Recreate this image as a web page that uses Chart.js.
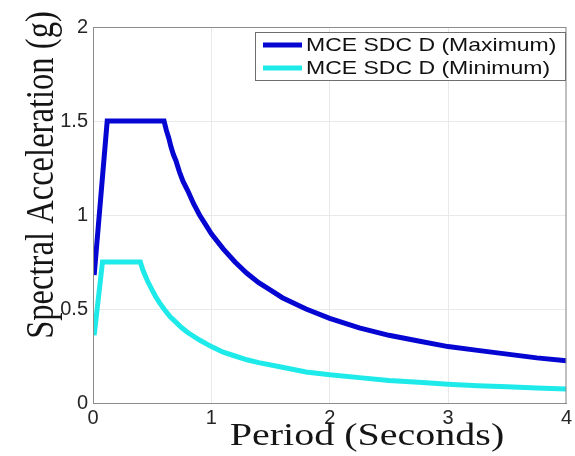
<!DOCTYPE html>
<html>
<head>
<meta charset="utf-8">
<script src="https://cdn.jsdelivr.net/npm/chart.js@4"></script>
<style>
  html, body { margin: 0; padding: 0; background: #fff; }
  #wrap { width: 575px; height: 456px; }
</style>
</head>
<body>
<div id="wrap"><canvas id="chart" width="575" height="456"></canvas></div>
<script>
// values
const periodMax = [0.01, 0.12, 0.6, 0.62, 0.64, 0.66, 0.68, 0.7, 0.73, 0.76, 0.8, 0.85, 0.9, 0.95, 1.0, 1.1, 1.2, 1.3, 1.4, 1.5, 1.6, 1.8, 2.0, 2.25, 2.5, 2.75, 3.0, 3.25, 3.5, 3.75, 4.0];
const saMax = [0.68, 1.5, 1.5, 1.45, 1.41, 1.36, 1.32, 1.29, 1.23, 1.18, 1.13, 1.06, 1.0, 0.95, 0.9, 0.82, 0.75, 0.69, 0.64, 0.6, 0.56, 0.5, 0.45, 0.4, 0.36, 0.33, 0.3, 0.28, 0.26, 0.24, 0.225];

const periodMin = [0.01, 0.08, 0.4, 0.42, 0.44, 0.46, 0.48, 0.5, 0.53, 0.56, 0.6, 0.65, 0.7, 0.75, 0.8, 0.9, 1.0, 1.1, 1.2, 1.3, 1.4, 1.6, 1.8, 2.0, 2.25, 2.5, 2.75, 3.0, 3.25, 3.5, 3.75, 4.0];
const saMin = [0.36, 0.75, 0.75, 0.71, 0.68, 0.65, 0.625, 0.6, 0.565, 0.535, 0.5, 0.46, 0.43, 0.4, 0.375, 0.335, 0.3, 0.27, 0.25, 0.23, 0.215, 0.19, 0.165, 0.15, 0.135, 0.12, 0.11, 0.1, 0.092, 0.086, 0.08, 0.075];

const seriesLabels = ["MCE SDC D (Maximum)", "MCE SDC D (Minimum)"];
const seriesColors = ["#0606d2", "#1eeaea"];
const xTitle = "Period (Seconds)";
const yTitle = "Spectral Acceleration (g)";

function toPoints(xs, ys) {
    return xs.map((x, i) => ({ x: x, y: ys[i] }));
}

// the source figure is a bit squashed vertically, text too
const squash = 0.77;

// box, axis titles and legend drawn like the matlab figure
const figureDecor = {
    id: "figureDecor",
    afterDraw(chart) {
        const ctx = chart.ctx;
        const a = chart.chartArea;
        ctx.save();

        // axes box
        ctx.strokeStyle = "#8c8c8c";
        ctx.lineWidth = 1;
        ctx.strokeRect(a.left + 0.5, a.top + 0.5, a.right - a.left - 1, a.bottom - a.top);

        // axis titles
        ctx.fillStyle = "#151515";
        ctx.font = "40px 'Liberation Serif', serif";
        ctx.textAlign = "center";
        ctx.textBaseline = "alphabetic";

        ctx.save();
        ctx.translate(367, 445);
        ctx.scale(1, squash);
        ctx.fillText(xTitle, 0, 0);
        ctx.restore();

        ctx.save();
        ctx.translate(53, 175);
        ctx.rotate(-Math.PI / 2);
        ctx.scale(0.815, 1);
        ctx.fillText(yTitle, 0, 0);
        ctx.restore();

        // legend
        const lx = 255, ly = 32, lw = 310, lh = 48;
        ctx.fillStyle = "#fff";
        ctx.fillRect(lx, ly, lw, lh);
        ctx.strokeStyle = "#6e6e6e";
        ctx.lineWidth = 1;
        ctx.strokeRect(lx + 0.5, ly + 0.5, lw, lh);

        ctx.font = "23px 'Liberation Sans', Arial, sans-serif";
        ctx.textAlign = "left";
        ctx.textBaseline = "middle";
        seriesLabels.forEach((label, i) => {
            const y = 45 + i * 23;
            ctx.strokeStyle = seriesColors[i];
            ctx.lineWidth = 5;
            ctx.beginPath();
            ctx.moveTo(263, y);
            ctx.lineTo(302, y);
            ctx.stroke();
            ctx.save();
            ctx.translate(306, y + 1);
            ctx.scale(1, 0.82);
            ctx.fillStyle = "#111";
            ctx.fillText(label, 0, 0);
            ctx.restore();
        });

        ctx.restore();
    }
};

const tickFont = { family: "'Liberation Sans', Arial, sans-serif", size: 20 };

new Chart(document.getElementById("chart"), {
    type: "scatter",
    data: {
        datasets: [
            {
                label: seriesLabels[0],
                data: toPoints(periodMax, saMax),
                showLine: true,
                borderColor: seriesColors[0],
                backgroundColor: seriesColors[0],
                borderWidth: 5,
                pointRadius: 0,
                tension: 0,
            },
            {
                label: seriesLabels[1],
                data: toPoints(periodMin, saMin),
                showLine: true,
                borderColor: seriesColors[1],
                backgroundColor: seriesColors[1],
                borderWidth: 5,
                pointRadius: 0,
                tension: 0,
            },
        ],
    },
    options: {
        responsive: false,
        animation: false,
        layout: { padding: { top: 27, right: 4, left: 0, bottom: 0 } },
        plugins: {
            legend: { display: false },
            tooltip: { enabled: false },
        },
        scales: {
            x: {
                type: "linear",
                min: 0,
                max: 4,
                afterFit: (scale) => { scale.height = 53; },
                ticks: { stepSize: 1, font: tickFont, color: "#262626", padding: 3, maxRotation: 0 },
                grid: { color: "#e9e9e9", drawTicks: false },
                border: { color: "#8c8c8c" },
            },
            y: {
                min: 0,
                max: 2,
                afterFit: (scale) => { scale.width = 93; },
                ticks: {
                    stepSize: 0.5,
                    font: tickFont,
                    color: "#262626",
                    padding: 5,
                    callback: (v) => String(v),
                },
                grid: { color: "#e9e9e9", drawTicks: false },
                border: { color: "#8c8c8c" },
            },
        },
    },
    plugins: [figureDecor],
});
</script>
</body>
</html>
